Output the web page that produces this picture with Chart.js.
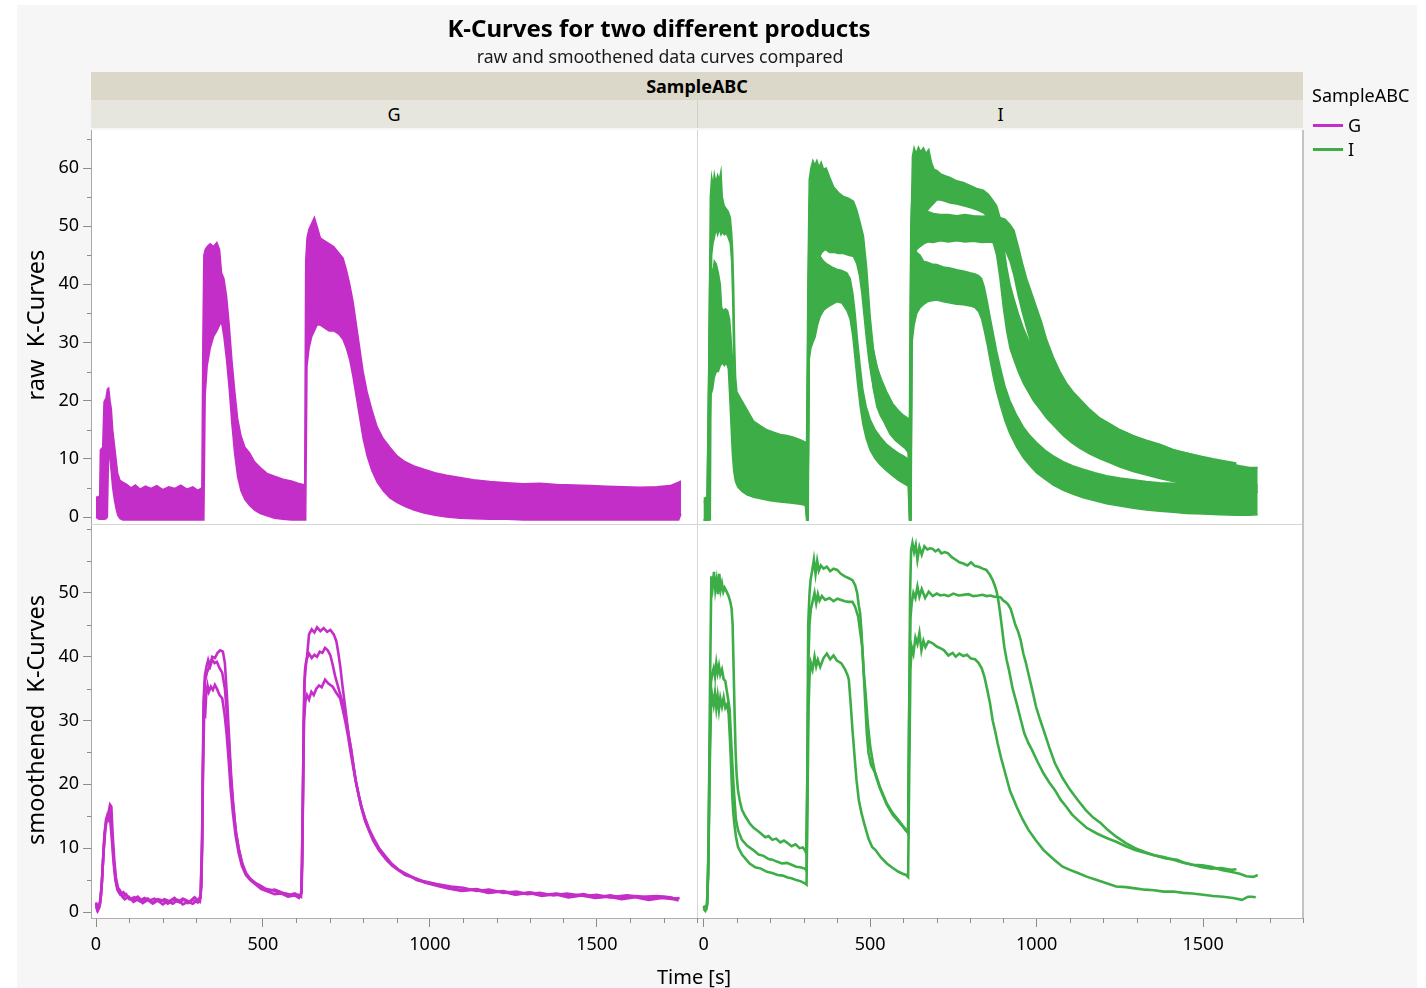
<!DOCTYPE html>
<html><head><meta charset="utf-8">
<script src="https://cdn.jsdelivr.net/npm/chart.js@4.4.0/dist/chart.umd.min.js"></script>
<style>
html,body{margin:0;padding:0;background:#fff;}
body{width:1426px;height:988px;position:relative;overflow:hidden;font-family:'Noto Sans','Open Sans',sans-serif;color:#000;}
#bg{position:absolute;left:17px;top:5px;width:1400px;height:983px;background:#f6f6f6;}
#c{position:absolute;left:0;top:0;}
.t{position:absolute;white-space:pre;}
.c{transform:translate(-50%,-50%);}
.strip{position:absolute;text-align:center;}
</style></head>
<body>
<div id="bg"></div>
<canvas id="c" width="1426" height="988"></canvas>
<div class="t c" style="left:659px;top:27px;font-size:24px;font-weight:bold;">K-Curves for two different products</div>
<div class="t c" style="left:660px;top:56px;font-size:17.7px;color:#1a1a1a;">raw and smoothened data curves compared</div>
<div class="strip" style="left:91px;top:72px;width:1212px;height:28px;line-height:28px;background:#dbd8ca;font-size:18px;font-weight:bold;">SampleABC</div>
<div class="strip" style="left:91px;top:100px;width:606px;height:28px;line-height:28px;background:#e7e6de;font-size:18px;">G</div>
<div class="strip" style="left:698px;top:100px;width:605px;height:28px;line-height:28px;background:#e7e6de;font-size:18px;">I</div>
<div style="position:absolute;left:697px;top:100px;width:1px;height:28px;background:#d2d1c6;"></div>
<div class="t" style="left:1312px;top:83px;font-size:18px;line-height:24px;">SampleABC</div>
<div style="position:absolute;left:1313px;top:124px;width:30px;height:3px;background:#C42EC8;"></div>
<div class="t" style="left:1348px;top:113px;font-size:18px;line-height:24px;">G</div>
<div style="position:absolute;left:1313px;top:148px;width:30px;height:3px;background:#3DAE47;"></div>
<div class="t" style="left:1348px;top:137px;font-size:18px;line-height:24px;">I</div>
<div class="t" style="left:35px;top:325px;font-size:23.5px;transform:translate(-50%,-50%) rotate(-90deg);">raw  K-Curves</div>
<div class="t" style="left:35px;top:720px;font-size:23.5px;transform:translate(-50%,-50%) rotate(-90deg);">smoothened  K-Curves</div>
<div class="t c" style="left:694px;top:976px;font-size:20px;">Time [s]</div>
<script>
// ---------- tick labels ----------
const X_TICKS = [0, 500, 1000, 1500];
const X_MINOR = [100, 200, 300, 400, 600, 700, 800, 900, 1100, 1200, 1300, 1400, 1600, 1700, 1800];
const Y_RAW_TICKS = [0, 10, 20, 30, 40, 50, 60];
const Y_RAW_MINOR = [5, 15, 25, 35, 45, 55, 65];
const Y_SMOOTH_TICKS = [0, 10, 20, 30, 40, 50];
const Y_SMOOTH_MINOR = [5, 15, 25, 35, 45, 55, 60];

// ---------- raw G : [time, low envelope, high envelope] ----------
const G_RAW = [
 [0,0,3.4],[6,-0.3,3.5],[11,-0.4,3.6],[13,-0.4,11.5],[20,-0.4,12],[24,-0.4,19.8],[30,-0.3,20.5],[34,0,22],
 [38,12,22.2],[42,10,20],[46,7.5,18.5],[50,5,15],[55,3,12.5],[60,1.5,10],[65,0.3,7.5],[72,-0.3,6.3],
 [80,-0.5,6.0],[92,-0.5,5.6],[105,-0.5,5.0],[118,-0.5,5.5],[132,-0.5,4.8],[148,-0.5,5.3],[165,-0.5,4.9],
 [182,-0.5,5.4],[200,-0.5,4.7],[218,-0.5,5.2],[236,-0.5,4.9],[254,-0.5,5.5],[272,-0.5,4.8],[290,-0.5,5.2],
 [305,-0.5,4.6],[317,-0.5,5.0],[320,-0.5,30],[323,-0.5,45],[327,21,46],[333,26,46.5],[342,29,47],[352,31,46.5],
 [362,32,47.2],[370,33,46],[376,33.5,42],[383,31,41],[391,27,38],[399,22,33],[407,16,27],[415,11,22],
 [424,7,17],[434,4.5,14],[446,3,12],[460,2,11],[475,1.2,9.5],[492,0.6,8.5],[512,0.2,7.5],[535,-0.2,7.0],
 [560,-0.4,6.5],[585,-0.5,6.2],[605,-0.5,5.8],[625,-0.5,5.5],[628,-0.5,44],[632,26,48],[638,29,49.5],
 [646,31,50.5],[654,32,51.5],[662,33,50],[672,33,48],[684,32.5,47.5],[698,32,47],[712,32,46.5],
 [726,31.5,45.5],[740,30.5,44.5],[750,29,42.5],[760,27,40],[770,24,37],[780,20.5,33],[790,17,29],
 [800,13.5,25],[812,10.5,21.5],[826,8,18.5],[842,6,15.5],[860,4.5,13.5],[880,3.3,12],[902,2.5,10.5],
 [926,1.8,9.5],[952,1.2,8.8],[982,0.7,8.2],[1015,0.3,7.6],[1050,0,7.2],[1090,-0.2,6.8],[1130,-0.3,6.4],
 [1180,-0.4,6.1],[1230,-0.4,5.9],[1280,-0.5,5.7],[1330,-0.5,5.8],[1380,-0.5,5.6],[1430,-0.5,5.5],
 [1480,-0.5,5.4],[1530,-0.5,5.3],[1580,-0.5,5.2],[1630,-0.5,5.1],[1680,-0.5,5.2],[1720,-0.5,5.4],
 [1745,-0.5,6.0],[1752,0.5,6.2]
];

// ---------- smoothed G : [time, value] ----------
const G_SMOOTH_A = [
 [0,1.3],[4,0.3],[8,0.5],[12,1.2],[18,5],[24,11],[30,14.5],[36,15.2],[42,16.8],[46,16.5],[50,12],[55,8],
 [60,5.2],[66,3.8],[72,3.4],[80,2.4],[90,2.8],[100,2.0],[115,2.3],[130,1.7],[145,2.2],[160,1.8],[175,2.1],
 [190,1.6],[205,2.0],[220,1.7],[235,2.2],[250,1.5],[265,2.0],[280,1.6],[295,2.3],[305,1.8],[313,2.5],
 [318,10],[322,30],[326,36],[332,37.5],[340,38.5],[348,40],[356,39.8],[364,40.6],[372,41],[380,40.8],
 [386,39],[392,34],[398,28],[404,22],[410,17.5],[418,13],[427,10],[437,7.8],[448,6.2],[460,5.3],[475,4.6],
 [490,4.2],[510,3.6],[530,3.4],[550,3.0],[570,2.9],[590,2.6],[605,2.7],[614,2.4],[618,8],[622,30],[626,38],
 [632,40],[638,43.5],[646,44.3],[654,43.8],[662,44.6],[672,44],[682,44.5],[692,43.9],[702,44.2],[712,43.5],
 [720,42.4],[726,40.5],[732,38.3],[738,35.5],[744,33],[750,30.5],[757,27.5],[764,25.5],[771,23],[778,20.5],
 [786,18.5],[794,16.5],[805,14.5],[817,12.9],[830,11.2],[846,9.8],[862,8.8],[880,7.7],[900,6.8],[926,5.8],
 [950,5.4],[983,4.8],[1020,4.4],[1063,4.0],[1100,3.8],[1140,3.3],[1177,3.5],[1220,3.0],[1260,3.2],
 [1291,2.8],[1330,3.0],[1370,2.6],[1410,2.9],[1463,2.5],[1500,2.7],[1540,2.3],[1590,2.6],[1634,2.4],
 [1680,2.5],[1720,2.3],[1740,2.0]
];
const G_SMOOTH_B = [
 [0,0.9],[5,0.2],[10,0.8],[15,2.5],[20,7],[26,12.5],[32,14.8],[38,15.5],[43,14.2],[48,11],[53,7.5],[58,5],
 [64,3.5],[72,2.8],[82,3.1],[95,2.2],[110,1.9],[125,2.4],[140,1.7],[155,2.1],[170,1.5],[185,2.0],[200,1.8],
 [215,1.3],[230,1.9],[245,1.6],[260,2.1],[275,1.4],[290,1.9],[305,1.5],[313,2.2],[318,12],[322,33],[326,37],
 [331,38.5],[336,39.5],[342,38.5],[348,39.5],[355,39],[362,39.2],[370,38.2],[378,37.5],[386,35],[392,31],
 [398,26.5],[404,21],[411,16.5],[419,12.5],[428,9.8],[438,7.5],[450,6],[462,5.2],[478,4.5],[495,3.8],
 [515,3.3],[535,3.5],[555,3.1],[575,2.6],[595,2.9],[610,2.5],[616,3],[620,20],[624,36],[630,39.5],[638,40.5],
 [646,39.8],[654,40.3],[662,40],[670,40.8],[678,40.6],[686,41.4],[694,41],[702,40.2],[709,38.7],[716,37],
 [724,35.5],[732,34],[740,32.5],[748,30.5],[756,28],[764,25.5],[772,22.5],[780,20],[788,18],[797,16],
 [808,14],[820,12.5],[834,11],[850,9.5],[868,8.3],[888,7.2],[910,6.4],[935,5.8],[960,5.0],[990,4.6],
 [1025,4.2],[1060,3.7],[1100,3.4],[1140,3.6],[1180,3.1],[1220,3.3],[1260,2.8],[1300,3.1],[1340,2.7],
 [1380,2.9],[1420,2.5],[1460,2.8],[1500,2.3],[1540,2.6],[1580,2.2],[1620,2.5],[1660,2.2],[1700,2.4],
 [1735,2.1],[1748,2.2]
];
const G_SMOOTH_C = [
 [0,1.5],[6,0.6],[12,1.6],[17,4],[22,9],[28,13],[34,15],[38,14.5],[42,15.2],[47,13],[52,9],[57,6],[62,4.2],
 [68,3.2],[76,2.6],[86,2.0],[98,2.4],[112,1.6],[126,2.0],[140,1.4],[155,1.9],[170,1.3],[185,1.8],[200,1.2],
 [215,1.7],[230,1.3],[245,1.9],[260,1.2],[275,1.6],[290,1.3],[302,1.8],[311,1.6],[316,4],[320,22],[324,31],
 [327,30.8],[330,34],[334,35.5],[338,34.5],[344,35.3],[350,34.8],[356,35.6],[362,35],[370,34],[378,33.5],
 [385,31],[391,28],[397,24],[403,19.5],[410,15.5],[418,12],[427,9.3],[437,7.2],[449,5.8],[462,5],[478,4.3],
 [495,3.6],[515,3.2],[535,2.8],[555,2.9],[575,2.4],[595,2.6],[608,2.2],[615,3],[619,15],[623,30],[627,33],
 [632,34],[638,33.3],[645,34.5],[652,34],[660,35],[668,35.5],[676,35.2],[686,36.4],[696,35.8],[709,35.3],
 [720,34.3],[731,33.5],[740,31.5],[748,29.5],[755,27.5],[762,25.2],[770,22.8],[778,20.5],[786,18.5],
 [795,16.5],[806,14.7],[818,13],[832,11.5],[848,10],[866,8.8],[885,7.6],[905,6.7],[930,5.9],[955,5.3],
 [985,4.6],[1020,4.1],[1055,3.7],[1095,3.3],[1135,3.5],[1175,3.0],[1215,3.2],[1255,2.7],[1295,3.0],
 [1335,2.5],[1375,2.8],[1415,2.3],[1455,2.6],[1495,2.2],[1535,2.4],[1575,2.0],[1615,2.3],[1655,1.9],
 [1695,2.2],[1730,2.0],[1745,1.8]
];

// ---------- raw I : [time, low envelope, high envelope] ----------
const I_RAW_A = [
 [0,-0.5,3.2],[8,-0.5,3.4],[12,-0.5,3.0],[16,-0.5,30],[20,-0.5,55],[24,45,58.5],[28,47,57],[32,48,59],
 [37,49.5,57.5],[42,48.5,58.8],[47,49.5,58],[52,48.5,59.5],[56,49,55],[62,48.5,53.5],[68,48.8,53],
 [74,48,52.5],[80,47,51.5],[84,44,49],[87,38,46],[90,28,40],[93,19,30],[96,14,24],[100,12,21.5],
 [110,11,20.5],[120,10,19.5],[135,9,18],[150,8.5,16.5],[170,8,15.7],[190,7.6,15],[210,7.3,14.6],
 [230,7,14.2],[250,6.8,14],[270,6.5,13.7],[290,6.2,13.3],[305,6,12.9],[309,-0.5,12.5],[313,-0.5,40],
 [317,30,58],[322,46,60],[328,51,61.3],[334,52,60.5],[340,51.5,61.3],[346,52.5,60.2],[353,51.8,61],
 [360,52,59.8],[368,51.5,60],[378,51,58.5],[390,50,56.8],[405,49,55.8],[420,48,55.1],[435,47.5,54.8],
 [450,47,54.3],[460,46,52.8],[470,44.5,50.6],[480,41,48.3],[490,34,42.6],[500,27,34.5],[510,22,28.8],
 [520,19,26],[530,17.5,24],[540,16.5,22.5],[550,15.3,20.8],[560,14.2,19.1],[575,13.2,18.2],[590,12.5,17.4],
 [605,11.8,16.5],[615,11,15.6],[619,-0.5,15],[623,-0.5,50],[627,40,62],[632,50,63.5],[638,52,62.5],
 [645,53,63.6],[652,52.5,62.8],[660,53,63.5],[668,52.5,62.5],[676,53,63.2],[684,53.5,61],[692,54,59.8],
 [700,54.5,59.6],[712,54.5,59],[725,54.3,58.7],[740,54,58.4],[760,53.8,57.8],[780,53.5,57.5],[800,53.2,57],
 [820,52.8,56.5],[840,52.3,56.2],[855,51.5,55.5],[868,47.5,54.5],[880,45,53.5],[890,41,51.5],[900,36,47],
 [910,32,43],[920,29,40],[932,27,37.5],[945,25,35],[960,23,32.5],[975,21.5,30.5],[990,20,29],[1010,18.5,27],
 [1030,17,25.5],[1055,15.5,23.5],[1080,14,22],[1105,12.8,20.5],[1130,11.8,19.2],[1160,10.8,18],[1190,10,17],
 [1220,9.3,16],[1250,8.6,15],[1290,7.8,14],[1330,7.2,13],[1370,6.6,12.2],[1410,6.1,11.5],[1450,5.6,11],
 [1490,5.2,10.5],[1530,4.9,10],[1570,4.6,9.6],[1600,4.4,9.3]
];
const I_RAW_B = [
 [0,-0.5,2.5],[10,-0.5,2.8],[14,-0.5,20],[18,18,40],[22,26,43],[27,28,42],[32,29.5,44],[38,30,43.5],
 [44,30,42],[50,30.5,40],[54,30,36],[60,30,35.5],[66,30,35.8],[72,29.5,35.5],[78,27,34],[82,22,31],
 [86,17,27.5],[90,13,23],[95,9.5,18.5],[102,8,16],[115,6.8,14.5],[130,6,13.4],[150,5.2,12.5],[175,4.7,12],
 [200,4.3,11.4],[230,4,11],[260,3.7,10.6],[290,3.4,10.2],[305,3.2,10],[310,-0.5,9.5],[314,-0.5,40],
 [318,38,55],[323,42,57],[330,44,57.5],[338,45,56.5],[346,44.5,57],[355,45.5,56],[365,46,56.2],
 [378,45.5,55],[390,45.5,53.5],[405,45.3,53],[420,45.3,52.5],[435,45,52],[450,44.8,51.5],[460,43.5,50.5],
 [468,41.5,49],[475,38.5,46.5],[482,34.5,43],[489,30.5,39],[496,27,35],[504,24,31],[512,21.5,28],
 [522,19.3,25.5],[535,17.5,23.5],[550,15.8,21.5],[568,14.3,19.5],[585,13.2,18.3],[600,12.4,17.5],
 [614,12,17],[618,-0.5,16.5],[622,-0.5,50],[626,42,56],[632,45,56.5],[640,46,55.5],[650,46.5,54],
 [662,47,53],[675,47.3,52.5],[690,47.2,52.2],[710,47.5,52],[735,47.3,52],[760,47.5,51.8],[785,47.3,52],
 [810,47.4,51.8],[835,47.2,51.7],[860,47.3,51.8],[885,47,51.6],[905,46,51.2],[920,44,50.3],[932,41.5,49.3],
 [945,38,46.5],[958,35,43.5],[970,32.5,41],[985,29.5,38.5],[1000,27,36],[1015,25,33.5],[1030,23,30.5],
 [1050,21,27.5],[1070,19,25],[1090,17.5,23],[1110,16,21.5],[1135,14.5,20],[1160,13.3,18.5],[1190,12,17],
 [1220,10.8,16],[1250,9.8,15],[1290,8.8,14],[1330,8,13.2],[1370,7.3,12.5],[1410,6.6,11.6],[1450,6.1,11],
 [1490,5.6,10.4],[1530,5.2,9.8],[1570,4.8,9.3],[1610,4.5,8.8],[1640,4.3,8.5],[1664,4.2,8.5]
];
const I_RAW_C = [
 [0,-0.5,2.8],[10,-0.5,3],[14,-0.5,18],[18,14,34],[22,21,38],[27,22,37.5],[32,24,38.5],[38,25,37.8],
 [44,25,36.5],[50,26,35.5],[56,26.5,34.5],[62,26,34],[68,26.5,34],[74,25.5,33.5],[78,21,30],[82,16,26],
 [86,11,19.5],[90,8,15],[95,6.2,12.5],[102,5.2,11],[115,4.4,10],[130,3.8,9.2],[150,3.4,8.6],[175,3.1,8.2],
 [200,2.8,7.8],[230,2.6,7.5],[260,2.4,7.2],[290,2.2,7.0],[305,2.0,6.8],[310,-0.5,6.5],[313,-0.5,30],
 [317,27,43],[322,29,44.5],[328,30,44],[335,31,45],[342,33,44.3],[350,34.5,44.8],[360,35.5,44],[370,36,43.5],
 [385,36.5,43],[400,37,42.6],[415,36.8,42.4],[430,35.5,42],[440,34,41],[448,31,38.5],[455,27,35],[462,23,30.5],
 [470,19,26],[478,16,22],[488,13.5,19],[500,11.5,16.8],[515,10,15],[530,9,13.8],[548,8,12.6],[565,7.2,11.8],
 [585,6.3,11],[600,5.8,10.5],[614,5.3,10],[618,-0.5,9.8],[622,-0.5,45],[626,30,46],[632,33,46.5],
 [640,35,45.5],[650,36,45],[660,36.5,44],[672,37,43.8],[685,37.2,43.5],[700,37.3,43.4],[720,37,43],
 [740,36.8,42.8],[760,36.6,42.5],[780,36.5,42.3],[800,36.3,42],[815,36,41.8],[826,35.3,41.5],[835,34,41],
 [843,32,39.5],[852,29.5,37],[860,27,34.5],[870,24,31.5],[880,21.5,28.5],[892,19,25.5],[905,16.5,22.5],
 [920,14.3,20],[940,12,17.5],[960,10.2,15.5],[980,8.8,14],[1000,7.6,12.8],[1025,6.5,11.5],[1050,5.5,10.5],
 [1080,4.6,9.5],[1110,3.9,8.8],[1140,3.3,8.2],[1175,2.8,7.6],[1210,2.3,7.1],[1250,1.9,6.7],[1290,1.5,6.4],
 [1330,1.2,6.1],[1370,1.0,5.9],[1410,0.8,5.8],[1450,0.6,5.6],[1500,0.5,5.5],[1550,0.4,5.4],[1600,0.3,5.3],
 [1640,0.3,5.3],[1664,0.4,5.5]
];

// ---------- smoothed I : [time, value] ----------
const I_SMOOTH_A = [
 [0,0.8],[4,0.3],[8,0.4],[11,1.5],[15,12],[19,35],[23,52.6],[27,51],[31,53.3],[35,50.5],[39,52],[43,49.8],
 [47,53],[51,50.5],[55,51.5],[59,50.2],[63,50.8],[69,50.2],[75,49.5],[80,48.6],[84,47.5],[87,45],[90,38],
 [93,31],[96,25],[99,21.5],[103,19.1],[109,17.3],[115,16],[125,15],[138,13.9],[150,13.2],[160,12.8],
 [172,12.3],[185,11.7],[195,11.9],[206,11.3],[218,11.5],[230,10.9],[241,11.2],[252,10.8],[264,10.3],
 [276,10.6],[288,10.0],[298,10.1],[304,9.7],[308,9.2],[311,20],[314,45],[318,50],[321,52],[326,53.5],
 [331,55.2],[336,53],[341,55],[346,53.5],[352,54.3],[360,53.8],[370,54.1],[380,53.4],[390,53.8],[401,53.6],
 [412,53],[424,52.6],[436,52.3],[447,52],[455,51.2],[461,50],[466,48],[470,46.8],[474,44],[478,40],[482,36],
 [486,32],[490,28],[495,25],[503,23],[516,21.7],[530,19.5],[550,17],[568,15.5],[585,14.4],[598,13.5],
 [608,12.9],[614,12.3],[617,30],[620,50],[623,56.7],[627,57.8],[632,56.4],[637,57.5],[642,55.2],[648,57.2],
 [655,56],[663,57.3],[672,56.8],[680,57],[688,56.9],[696,56.5],[705,56.8],[714,56.2],[724,56.4],[734,56.2],
 [745,55.6],[757,55.2],[768,54.8],[780,54.6],[792,54.3],[803,54.8],[815,54.2],[826,54.1],[838,53.8],
 [849,53.6],[860,52.8],[868,52],[874,51.2],[880,50.2],[885,48.8],[890,47],[896,44.5],[903,41.5],[910,39.5],
 [917,37.9],[928,35],[940,32.7],[952,30.2],[963,28],[975,26.5],[986,25.4],[1003,23.5],[1021,21.7],
 [1038,20.3],[1055,19.1],[1072,17.6],[1089,16.5],[1106,15.3],[1124,14.4],[1150,13.2],[1181,12.3],
 [1210,11.6],[1239,11],[1268,10.3],[1296,9.7],[1325,9.3],[1353,8.9],[1388,8.4],[1422,8.2],[1445,7.7],
 [1468,7.4],[1497,7.0],[1525,6.8],[1555,6.9],[1583,6.6],[1600,6.7]
];
const I_SMOOTH_B = [
 [0,0.5],[5,0.2],[10,0.9],[14,8],[18,25],[22,36],[26,37.4],[30,38.2],[34,36.9],[38,39],[42,37.5],[46,38.6],
 [50,37.2],[55,38],[60,36.5],[65,36.2],[69,34.8],[74,33.2],[78,31.7],[82,27.5],[86,23.3],[89,20.5],[92,18.1],
 [97,14.4],[104,12.7],[115,11.3],[130,10.4],[149,9.7],[165,9.0],[180,8.8],[195,8.3],[206,8.2],[220,7.9],
 [235,7.6],[250,7.7],[264,7.4],[278,7.1],[290,7.0],[304,6.8],[309,6.5],[312,25],[315,40],[318,45.2],
 [322,47.5],[327,48.6],[333,50],[338,48.4],[343,49.8],[348,48.8],[355,49.5],[365,48.9],[378,49.2],[390,48.7],
 [402,49.1],[413,48.9],[424,48.7],[436,48.6],[447,48.6],[455,47.8],[464,46.3],[470,44],[476,41.6],[481,37.5],
 [487,33.8],[493,29.5],[500,26],[508,23.5],[516,21.5],[530,19.3],[550,16.8],[568,15.2],[585,14.2],[598,13.4],
 [608,12.7],[614,12.5],[617,30],[621,46],[625,48.5],[630,50],[636,49.2],[642,51],[648,49.4],[655,50.6],
 [665,49.2],[676,50.2],[688,49.5],[700,49.9],[711,49.6],[722,49.7],[735,49.5],[750,49.9],[765,49.6],
 [780,49.7],[795,49.8],[810,49.5],[825,49.6],[837,49.7],[850,49.5],[862,49.6],[872,49.4],[883,49.4],
 [892,49.3],[900,48.8],[906,48.6],[914,48.2],[922,47.5],[929,46.3],[936,45],[944,44],[952,42.6],[960,40.5],
 [968,39],[975,37.4],[986,35],[998,32.2],[1010,30.2],[1021,28.5],[1038,25.8],[1055,23.3],[1078,21],
 [1101,19.1],[1124,17.5],[1147,16],[1170,14.8],[1193,13.9],[1215,12.8],[1239,11.8],[1268,10.8],[1296,10.0],
 [1325,9.4],[1353,8.9],[1382,8.6],[1411,8.2],[1440,7.7],[1468,7.4],[1497,7.3],[1525,7.1],[1555,6.6],
 [1583,6.3],[1610,6.0],[1630,5.6],[1651,5.5],[1664,5.8]
];
const I_SMOOTH_C = [
 [0,1.0],[5,0.5],[10,1.2],[14,6],[18,22],[22,32],[26,33.8],[30,32.5],[34,34.3],[38,32],[42,33.8],[46,31.7],
 [50,33.5],[55,32.2],[60,33.6],[65,32],[70,32.5],[75,31.1],[80,26],[83,22],[86,18.1],[89,15.5],[92,13.9],
 [97,11.8],[103,10.2],[115,9.0],[128,8.2],[138,7.6],[155,7.0],[172,6.8],[190,6.3],[206,6.1],[222,5.8],
 [238,5.7],[252,5.4],[264,5.3],[278,5.0],[292,4.8],[304,4.5],[309,4.3],[312,18],[315,32],[318,36.9],
 [322,39],[327,38],[333,40],[338,38.5],[343,39.5],[350,38.4],[360,39.8],[370,40.5],[380,39.6],[390,40.2],
 [400,39.4],[413,39],[425,38],[433,37],[436,36.4],[441,33],[447,28.5],[453,24.5],[459,20.7],[466,17.5],
 [474,15.5],[482,13.9],[495,11.5],[506,10.2],[516,9.7],[533,8.5],[550,7.6],[568,6.9],[585,6.3],[598,6.0],
 [608,5.8],[614,5.5],[617,20],[621,38],[625,41.5],[630,40.5],[636,43],[642,42],[648,43.7],[654,41],
 [660,42.5],[666,41.5],[675,42.4],[688,42.1],[700,41.6],[712,41.3],[722,41],[735,40.2],[748,40.6],[757,40],
 [768,40.5],[780,40.1],[791,40.3],[803,39.7],[815,39.6],[826,39],[835,38.2],[843,36.9],[851,35],[860,32.7],
 [868,30],[876,28.2],[883,26.4],[894,24],[906,21.7],[920,19],[940,16.5],[958,14.5],[975,12.9],[998,11.2],
 [1021,9.7],[1050,8.3],[1078,7.1],[1100,6.6],[1124,6.1],[1152,5.5],[1181,5.0],[1210,4.5],[1239,4.0],
 [1268,3.9],[1296,3.7],[1325,3.5],[1353,3.4],[1382,3.2],[1411,3.2],[1440,3.0],[1468,2.9],[1500,2.7],
 [1530,2.5],[1560,2.4],[1590,2.2],[1617,1.9],[1635,2.4],[1646,2.4],[1658,2.3]
];

// ---------- styles ----------
const MAGENTA = '#C42EC8';
const GREEN = '#3DAE47';
const FONT = "'Noto Sans','Open Sans',sans-serif";

function bandSets(rows, xID, yID, color) {
  return [
    {data: rows.map(r => ({x: r[0], y: r[1]})), xAxisID: xID, yAxisID: yID,
     borderColor: color, borderWidth: 1.5, fill: false, pointRadius: 0},
    {data: rows.map(r => ({x: r[0], y: r[2]})), xAxisID: xID, yAxisID: yID,
     borderColor: color, borderWidth: 1.5, backgroundColor: color, fill: '-1', pointRadius: 0}
  ];
}
function lineSet(rows, xID, yID, color) {
  return {data: rows.map(r => ({x: r[0], y: r[1]})), xAxisID: xID, yAxisID: yID,
    borderColor: color, borderWidth: 2.6, fill: false, pointRadius: 0};
}

const datasets = [].concat(
  bandSets(G_RAW, 'xG', 'yRaw', MAGENTA),
  bandSets(I_RAW_A, 'xI', 'yRaw', GREEN),
  bandSets(I_RAW_B, 'xI', 'yRaw', GREEN),
  bandSets(I_RAW_C, 'xI', 'yRaw', GREEN),
  [lineSet(G_SMOOTH_A, 'xG', 'ySmooth', MAGENTA),
   lineSet(G_SMOOTH_B, 'xG', 'ySmooth', MAGENTA),
   lineSet(G_SMOOTH_C, 'xG', 'ySmooth', MAGENTA),
   lineSet(I_SMOOTH_A, 'xI', 'ySmooth', GREEN),
   lineSet(I_SMOOTH_B, 'xI', 'ySmooth', GREEN),
   lineSet(I_SMOOTH_C, 'xI', 'ySmooth', GREEN)]
);

const tickFont = {family: FONT, size: 18};
function xAxis(min, weight) {
  return {
    type: 'linear', position: 'bottom', stack: 'x', stackWeight: 1, weight: weight,
    min: min, max: 1800,
    afterBuildTicks: s => { s.ticks = X_TICKS.map(v => ({value: v})); },
    afterFit: s => { s.height = 40; },
    grid: {drawOnChartArea: false, drawTicks: true, tickLength: 9, color: '#8c8c8c'},
    border: {display: true, color: '#b0b0b0', width: 1},
    ticks: {font: tickFont, color: '#000', padding: 7, maxRotation: 0, autoSkip: false,
            callback: v => String(v)}
  };
}
function yAxis(min, max, ticks, weight) {
  return {
    type: 'linear', position: 'left', stack: 'y', stackWeight: 1, weight: weight,
    min: min, max: max,
    afterBuildTicks: s => { s.ticks = ticks.map(v => ({value: v})); },
    afterFit: s => { s.width = 91; },
    grid: {drawOnChartArea: false, drawTicks: true, tickLength: 8, color: '#8c8c8c'},
    border: {display: true, color: '#a8a8a8', width: 1},
    ticks: {font: tickFont, color: '#000', padding: 4, callback: v => String(v)}
  };
}

const panelPlugin = {
  id: 'panels',
  beforeDraw(chart) {
    const ca = chart.chartArea, ctx = chart.ctx;
    ctx.save();
    ctx.fillStyle = '#ffffff';
    ctx.fillRect(ca.left, ca.top, ca.right - ca.left, ca.bottom - ca.top);
    ctx.restore();
  },
  afterDraw(chart) {
    const ctx = chart.ctx, ca = chart.chartArea, s = chart.scales;
    ctx.save();
    ctx.strokeStyle = '#d6d6d6';
    ctx.lineWidth = 1;
    const mid = Math.round(s.yRaw.bottom) + 0.5;
    const vx = Math.round(s.xG.right) + 0.5;
    ctx.beginPath();
    ctx.moveTo(ca.left, mid); ctx.lineTo(ca.right, mid);
    ctx.moveTo(vx, ca.top); ctx.lineTo(vx, ca.bottom);
    ctx.stroke();
    ctx.strokeStyle = '#c4c4c4';
    ctx.lineWidth = 2;
    ctx.beginPath();
    ctx.moveTo(ca.right, ca.top); ctx.lineTo(ca.right, ca.bottom);
    ctx.stroke();
    // minor ticks
    ctx.strokeStyle = '#8c8c8c';
    ctx.lineWidth = 1;
    ctx.beginPath();
    [['yRaw', Y_RAW_MINOR], ['ySmooth', Y_SMOOTH_MINOR]].forEach(([id, vals]) => {
      const sc = s[id];
      vals.forEach(v => {
        if (v < sc.min || v > sc.max) return;
        const y = Math.round(sc.getPixelForValue(v)) + 0.5;
        ctx.moveTo(sc.right - 4, y); ctx.lineTo(sc.right, y);
      });
    });
    ['xG', 'xI'].forEach(id => {
      const sc = s[id];
      X_MINOR.forEach(v => {
        if (v < sc.min || v > sc.max) return;
        const x = Math.round(sc.getPixelForValue(v)) + 0.5;
        ctx.moveTo(x, sc.top); ctx.lineTo(x, sc.top + 5);
      });
    });
    ctx.stroke();
    ctx.restore();
  }
};

new Chart(document.getElementById('c'), {
  type: 'line',
  data: {datasets: datasets},
  options: {
    responsive: false, animation: false, devicePixelRatio: 1,
    layout: {padding: {left: 0, top: 130, right: 123, bottom: 30}},
    plugins: {legend: {display: false}, tooltip: {enabled: false}, title: {display: false},
              filler: {propagate: false}},
    elements: {point: {radius: 0}, line: {tension: 0}},
    scales: {
      xG: xAxis(-15, 1),
      xI: xAxis(-20, 2),
      ySmooth: yAxis(-0.94, 60.8, Y_SMOOTH_TICKS, 1),
      yRaw: yAxis(-1.2, 66.54, Y_RAW_TICKS, 2)
    }
  },
  plugins: [panelPlugin]
});
</script>
</body></html>
